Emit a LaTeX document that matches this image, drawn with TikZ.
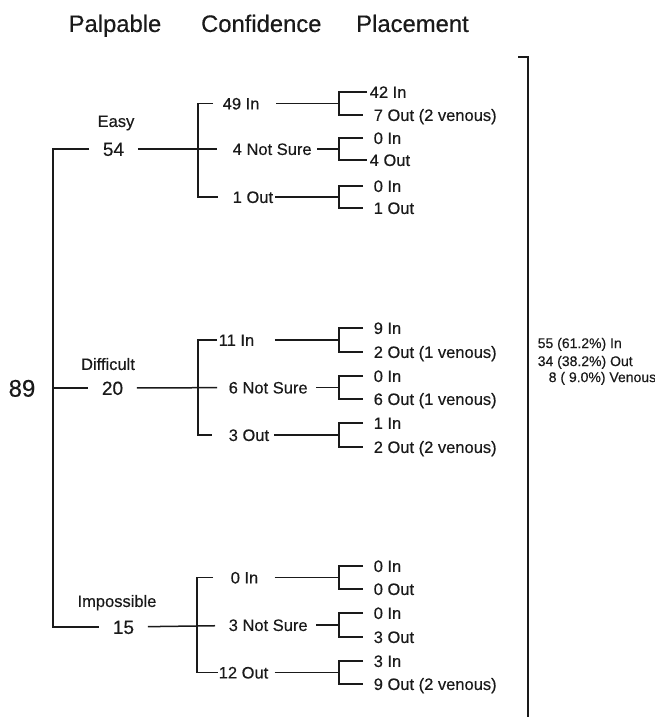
\documentclass[tikz,border=0pt]{standalone}
\usepackage{fontspec}
\newfontfamily\labfont[FakeBold=0.4]{Liberation Sans}
\definecolor{ink}{HTML}{1A1A1A}
\begin{document}
\begin{tikzpicture}[x=1pt,y=-1pt,line width=1.5pt,draw=ink,
  base/.style={inner sep=0pt,text depth=0pt,text=ink},
  s17/.style={font=\labfont\fontsize{16.5}{16.5}\selectfont,text height=11.9pt},
  hdr/.style={base,font=\labfont\fontsize{23.8}{23.8}\selectfont,text height=17.1pt},
  grp/.style={base,s17},
  num/.style={base,font=\labfont\fontsize{19}{19}\selectfont,text height=13.7pt,inner xsep=13pt},
  big/.style={base,font=\labfont\fontsize{24}{24}\selectfont,text height=17.3pt},
  conf/.style={base,s17,anchor=west},
  place/.style={base,s17,anchor=west,inner xsep=10pt},
  placeb/.style={base,s17,anchor=west,inner xsep=2pt},
  summ/.style={base,font=\labfont\fontsize{14}{14}\selectfont,text height=10.1pt,anchor=west}]
\useasboundingbox (0,0) rectangle (655,717);
% headers
\node[hdr] (hP) at (115,23.4) {Palpable};
\node[hdr] (hC) at (261.3,23.4) {Confidence};
\node[hdr] (hPl) at (412.5,23.4) {Placement};
% group labels and numbers
\node[grp] (lE) at (116,121) {Easy};
\node[grp] (lD) at (108,364) {Difficult};
\node[grp] (lI) at (117,601) {Impossible};
\node[num] (n54) at (113.5,149) {54};
\node[num] (n20) at (112.5,388) {20};
\node[num] (n15) at (123.5,627) {15};
\node[big] (n89) at (22,388) {89};
\coordinate (v) at (53,388);
\draw (n54) -| (v) |- (n15);
\draw (v) -- (n20);
% confidence labels
\coordinate (kE) at (198,149);
\coordinate (kD) at (198,388);
\coordinate (kI) at (197,627);
\node[conf] (cE1) at (222,103.5) {49 In};
\node[conf] (cE2) at (232,149) {4 Not Sure};
\node[conf] (cE3) at (232,197) {1 Out};
\node[conf] (cD1) at (218,340) {11 In};
\node[conf] (cD2) at (228,387.5) {6 Not Sure};
\node[conf] (cD3) at (228,435) {3 Out};
\node[conf] (cI1) at (230,577.5) {0 In};
\node[conf] (cI2) at (228,625) {3 Not Sure};
\node[conf] (cI3) at (218,672.5) {12 Out};
\draw[shorten <=9pt,shorten >=14pt] (cE1) -| (kE) |- (cE3);
\draw[shorten >=15pt] (n54) -- (cE2);
\draw[shorten <=1pt,shorten >=16pt] (cD1) -| (kD) |- (cD3);
\draw[shorten >=11pt] (n20) -- (cD2);
\draw[shorten <=17pt,shorten >=0pt] (cI1) -| (kI) |- (cI3);
\draw[shorten >=13pt] (n15) -- (cI2);
% placement
\coordinate (qE1) at (339,103.5);
\coordinate (qE2) at (339,149);
\coordinate (qE3) at (339,197);
\coordinate (qD1) at (339,340);
\coordinate (qD2) at (339,387.5);
\coordinate (qD3) at (339,435);
\coordinate (qI1) at (339,577.5);
\coordinate (qI2) at (339,625);
\coordinate (qI3) at (339,672.5);
\draw[shorten <=16pt] (cE1) -- (qE1);
\draw[shorten <=5pt] (cE2) -- (qE2);
\draw[shorten <=1.5pt] (cE3) -- (qE3);
\draw[shorten <=20pt] (cD1) -- (qD1);
\draw[shorten <=8pt] (cD2) -- (qD2);
\draw[shorten <=4.5pt] (cD3) -- (qD3);
\draw[shorten <=15.5pt] (cI1) -- (qI1);
\draw[shorten <=8pt] (cI2) -- (qI2);
\draw[shorten <=5.5pt] (cI3) -- (qI3);
\node[placeb] (pE1a) at (367,92) {42 In};
\node[place] (pE1b) at (363,115) {7 Out (2 venous)};
\node[place] (pE2a) at (363,138) {0 In};
\node[placeb] (pE2b) at (367,160) {4 Out};
\node[place] (pE3a) at (363,186) {0 In};
\node[place] (pE3b) at (363,208) {1 Out};
\node[place] (pD1a) at (363,328) {9 In};
\node[place] (pD1b) at (363,352) {2 Out (1 venous)};
\node[place] (pD2a) at (363,376) {0 In};
\node[place] (pD2b) at (363,399) {6 Out (1 venous)};
\node[place] (pD3a) at (363,423) {1 In};
\node[place] (pD3b) at (363,447) {2 Out (2 venous)};
\node[place] (pI1a) at (363,566) {0 In};
\node[place] (pI1b) at (363,589) {0 Out};
\node[place] (pI2a) at (363,613) {0 In};
\node[place] (pI2b) at (363,637) {3 Out};
\node[place] (pI3a) at (363,661) {3 In};
\node[place] (pI3b) at (363,684) {9 Out (2 venous)};
\foreach \g in {E,D,I}{\foreach \i in {1,2,3}{
  \draw (p\g\i a) -| (q\g\i) |- (p\g\i b);
}}
% summary bracket
\coordinate (bt) at (518,57);
\coordinate (bc) at (528,57);
\coordinate (bb) at (528,720);
\draw (bt) -- (bc) -- (bb);
\node[summ] (s1) at (537,343) {55 (61.2\%) In};
\node[summ] (s2) at (537,361) {34 (38.2\%) Out};
\node[summ] (s3) at (548,377) {8 ( 9.0\%) Venous};
\end{tikzpicture}
\end{document}
